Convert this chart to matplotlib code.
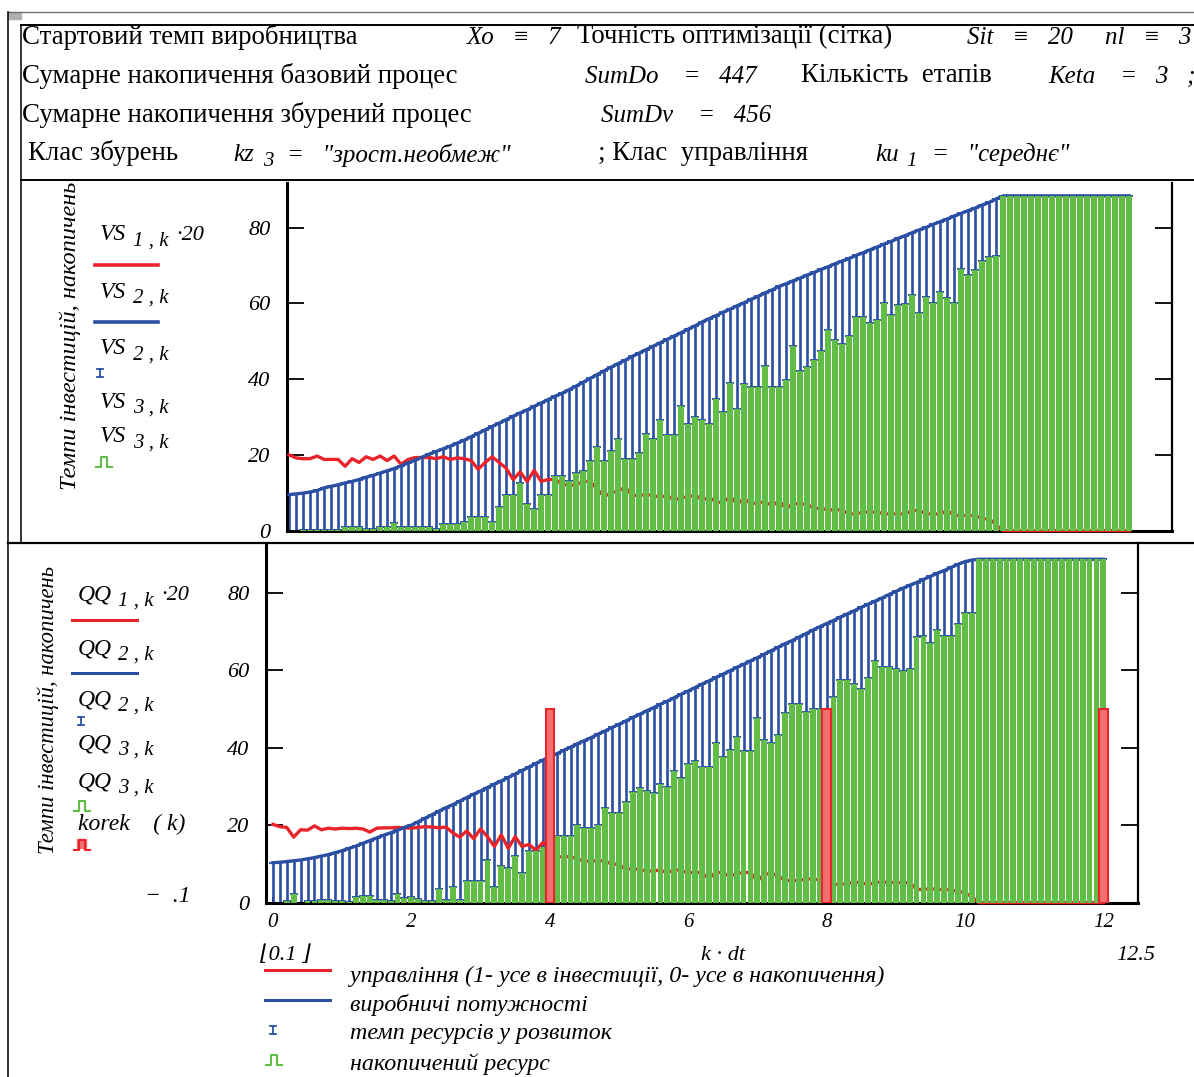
import numpy as np
import matplotlib
matplotlib.use('Agg')
import matplotlib.pyplot as plt
from matplotlib.lines import Line2D
from matplotlib.patches import Rectangle

plt.rcParams['font.family'] = ['Liberation Serif', 'DejaVu Serif']

# time grid k*dt, k = 0..120
dt = 0.1
k = np.arange(121)
t = k * dt

# ---- upper chart (VS): base process ----
vs_blue = [9.5, 9.7, 9.9, 10.2, 10.6, 11.3, 11.7, 12.1, 12.6, 13.0,
           13.5, 14.1, 14.6, 15.2, 15.8, 16.4, 17.1, 17.9, 18.6, 19.4,
           20.2, 20.9, 21.6, 22.3, 23.1, 23.9, 24.8, 25.7, 26.6, 27.5,
           28.4, 29.3, 30.2, 31.1, 31.9, 32.8, 33.7, 34.6, 35.5, 36.3,
           37.2, 38.2, 39.2, 40.2, 41.2, 42.2, 43.2, 44.1, 45.0, 46.0,
           46.9, 47.8, 48.7, 49.6, 50.5, 51.4, 52.3, 53.2, 54.1, 55.1,
           56.0, 56.8, 57.7, 58.5, 59.4, 60.2, 61.1, 61.9, 62.8, 63.6,
           64.5, 65.2, 66.0, 66.7, 67.5, 68.2, 69.0, 69.7, 70.5, 71.2,
           71.9, 72.7, 73.4, 74.2, 74.9, 75.7, 76.4, 77.2, 77.9, 78.7,
           79.4, 80.1, 80.9, 81.6, 82.3, 83.1, 83.8, 84.5, 85.2, 86.0,
           86.7, 87.6] + [88.4] * 19
vs_green = [0, 0, 0.2, 0.2, 0.2, 0.2, 0.2, 0.2, 0.9, 0.9,
            0.9, 0.4, 0.4, 0.9, 0.9, 2.0, 0.9, 0.9, 0.9, 0.9,
            0.9, 0.4, 1.7, 1.7, 1.7, 2.4, 3.7, 3.7, 3.7, 2.2,
            6.2, 9.5, 9.5, 12.6, 7.0, 5.8, 9.5, 9.5, 14.4, 14.4,
            13.2, 15.3, 15.7, 18.4, 22.0, 18.4, 21.0, 24.3, 19.0, 19.0,
            20.5, 25.6, 24.3, 29.3, 25.2, 25.2, 32.9, 28.2, 30.0, 29.3,
            28.2, 34.7, 31.3, 39.0, 32.2, 38.6, 38.0, 38.0, 43.4, 38.0,
            38.0, 39.7, 48.7, 42.2, 43.1, 45.0, 47.5, 53.0, 50.3, 49.4,
            51.5, 56.5, 56.5, 54.9, 55.6, 60.0, 56.9, 59.6, 59.8, 62.2,
            57.5, 61.6, 60.0, 63.1, 61.5, 60.0, 69.0, 67.5, 68.7, 71.2,
            72.2, 72.6] + [88.4] * 19
vs_red = [20.0, 19.2, 19.0, 19.0, 19.7, 18.8, 18.8, 18.8, 17.0, 19.0,
          18.0, 19.5, 18.8, 19.7, 18.5, 19.7, 17.5, 18.8, 19.3, 19.3,
          19.3, 19.0, 19.5, 18.8, 19.2, 19.0, 18.5, 16.2, 18.0, 19.5,
          18.0, 16.5, 13.5, 15.5, 13.0, 15.9, 13.0, 13.5, 13.5, 12.2,
          12.0, 12.0, 13.0, 13.0, 11.0, 9.0, 10.0, 10.4, 11.5, 9.3,
          9.3, 9.5, 9.3, 8.8, 9.3, 8.0, 8.8, 8.8, 9.5, 8.0,
          8.8, 7.5, 7.5, 9.0, 7.0, 8.5, 7.0, 7.5, 7.5, 6.6,
          7.9, 5.7, 7.2, 7.0, 7.0, 5.7, 6.0, 5.3, 5.7, 5.3,
          4.4, 4.4, 4.9, 4.9, 4.9, 4.4, 4.4, 4.4, 4.4, 5.3,
          5.3, 4.4, 4.4, 4.4, 5.3, 4.0, 4.0, 4.0, 4.0, 3.1,
          3.1, 1.5] + [0] * 19

# ---- lower chart (QQ): disturbed process ----
qq_blue = [10.3, 10.4, 10.6, 10.8, 11.0, 11.3, 11.6, 12.0, 12.4, 12.9,
           13.4, 14.0, 14.6, 15.3, 16.0, 16.7, 17.4, 18.0, 18.7, 19.4,
           20.0, 20.9, 21.8, 22.7, 23.6, 24.5, 25.3, 26.2, 27.1, 28.0,
           28.8, 29.7, 30.6, 31.4, 32.3, 33.2, 34.1, 35.0, 35.9, 36.8,
           37.6, 38.4, 39.3, 40.1, 41.0, 41.8, 42.6, 43.5, 44.3, 45.2,
           46.0, 46.9, 47.8, 48.6, 49.5, 50.3, 51.2, 52.0, 52.9, 53.8,
           54.6, 55.5, 56.4, 57.2, 58.1, 58.9, 59.8, 60.7, 61.5, 62.4,
           63.2, 64.1, 65.0, 65.9, 66.8, 67.6, 68.5, 69.4, 70.3, 71.2,
           72.0, 72.8, 73.7, 74.5, 75.3, 76.2, 77.0, 77.8, 78.6, 79.5,
           80.3, 81.1, 81.9, 82.6, 83.4, 84.2, 85.0, 85.7, 86.5, 87.3,
           88.0, 88.4] + [88.6] * 19
qq_green = [0, 0, 0.5, 2.3, 0, 0.5, 0.3, 0.8, 0.8, 0.3,
            0.3, 0.2, 1.5, 1.8, 1.8, 0.8, 0.6, 0.5, 2.3, 1.2,
            1.5, 1.0, 0.3, 0.5, 3.4, 0.8, 4.1, 0.8, 5.7, 5.7,
            5.5, 10.9, 4.1, 9.4, 9.0, 12.0, 7.6, 13.2, 13.2, 14.3,
            14.5, 17.1, 17.1, 17.1, 19.9, 19.3, 19.3, 19.9, 24.5, 23.2,
            23.2, 25.9, 28.5, 29.7, 28.8, 28.4, 30.5, 29.8, 34.0, 32.1,
            35.7, 36.5, 35.0, 35.0, 41.2, 37.6, 39.3, 42.8, 39.1, 39.1,
            47.6, 41.9, 41.3, 43.2, 49.0, 51.3, 51.3, 49.2, 49.9, 49.9,
            50.0, 53.1, 57.4, 57.4, 56.5, 55.2, 58.0, 62.4, 60.8, 60.8,
            60.2, 59.8, 60.2, 68.5, 68.8, 67.1, 70.3, 68.8, 68.8, 71.8,
            74.8, 74.8] + [88.6] * 19
qq_red = [20.2, 19.6, 19.4, 16.9, 18.8, 18.7, 19.8, 18.8, 19.2, 19.0,
          19.2, 19.1, 19.2, 19.0, 18.2, 19.2, 19.3, 19.3, 19.4, 19.3,
          19.2, 19.4, 19.6, 19.5, 19.3, 19.5, 18.0, 16.9, 18.5, 16.5,
          19.0, 17.0, 14.5, 17.5, 14.0, 17.0, 14.5, 15.0, 13.5, 15.5,
          14.5, 11.8, 11.8, 11.9, 11.2, 10.7, 10.7, 10.9, 10.7, 9.9,
          9.9, 8.5, 8.8, 8.5, 8.1, 8.2, 8.4, 7.6, 8.6, 8.2,
          7.7, 7.8, 7.7, 6.2, 7.9, 7.6, 6.9, 7.4, 7.8, 7.7,
          5.6, 7.3, 7.5, 7.0, 5.6, 5.8, 5.6, 6.2, 6.0, 6.0,
          6.0, 4.7, 4.7, 5.0, 5.2, 5.2, 4.6, 5.2, 5.3, 5.2,
          5.2, 5.1, 5.2, 3.4, 3.4, 3.6, 3.4, 3.4, 3.2, 3.0,
          2.5, 1.5] + [0] * 19
korek_t = [4, 8, 12]
korek_h = [50, 50, 50]

RED = '#e8242a'
BLUE = '#2b4fa3'
GREEN = '#62bd47'

W, H = 1194, 1077
fig = plt.figure(figsize=(W / 100, H / 100), dpi=100)


def txt(x, y, s, size=18, style='normal', ha='left', **kw):
    fig.text(x / W, 1 - y / H, s, fontsize=size, style=style, ha=ha, va='center', **kw)


def seg(xs, ys, color='black', lw=1.1):
    fig.add_artist(Line2D([a / W for a in xs], [1 - b / H for b in ys], color=color, lw=lw))


def draw(ax, blue, green, red):
    blue = np.array(blue)
    green = np.array(green)
    ax.errorbar(t, blue, yerr=[blue - green, np.zeros_like(blue)], fmt='none',
                ecolor=BLUE, elinewidth=1.9, capsize=2.8, capthick=1.3, zorder=2)
    ax.plot(t, red, color=RED, lw=2.4, zorder=2.6, clip_on=False)
    ax.plot(t, blue, color=BLUE, lw=2.4, zorder=3)
    ax.bar(t, green, width=0.085, color=GREEN, zorder=4)


def setup(ax, xlim, ylim, xlabels):
    ax.set_xlim(*xlim)
    ax.set_ylim(*ylim)
    ax.set_yticks([0, 20, 40, 60, 80])
    ax.set_xticks([0, 2, 4, 6, 8, 10, 12])
    ax.tick_params(axis='y', direction='in', length=12, width=1.3, right=True,
                   pad=12, labelsize=16)
    ax.tick_params(axis='x', direction='in', length=4, width=1.3, pad=7,
                   labelsize=15, labelbottom=xlabels)
    for lab in ax.get_yticklabels() + ax.get_xticklabels():
        lab.set_style('italic')
    ax.spines['top'].set_visible(False)
    for s in ['left', 'bottom']:
        ax.spines[s].set_linewidth(2.2)
    ax.spines['right'].set_linewidth(1.6)


# upper chart
ax1 = fig.add_axes([287 / W, 1 - 531 / H, (1172 - 287) / W, (531 - 183) / H])
draw(ax1, vs_blue, vs_green, vs_red)
setup(ax1, (-0.03, 12.61), (-0.1, 91.8), False)

# lower chart
ax2 = fig.add_axes([266 / W, 1 - 903 / H, (1138 - 266) / W, (903 - 543) / H])
draw(ax2, qq_blue, qq_green, qq_red)
ax2.bar(korek_t, korek_h, width=0.12, color='#f27070', edgecolor=RED, lw=1.5, zorder=5)
setup(ax2, (-0.1, 12.5), (-0.1, 92.8), True)

# frame lines of the worksheet
fig.add_artist(Rectangle((8 / W, 1 - 19 / H), 13 / W, 7 / H, color='#b0b0b0'))
seg([8, 1194], [12, 12], '#707070', 1.0)
seg([8, 8], [12, 1077])
seg([21, 1194], [25, 25], lw=1.4)
seg([21, 21], [25, 543])
seg([21, 1194], [180, 180], lw=1.4)
seg([8, 1194], [543, 543], lw=1.6)

# header
HS = 19.4
IS = 18
txt(22, 37, 'Стартовий темп виробництва', HS)
txt(467, 38, 'Xo   ≡   7', IS, 'italic')
txt(577, 37, 'Точність оптимізації (сітка)', HS)
txt(967, 38, 'Sit   ≡   20', IS, 'italic')
txt(1105, 38, 'nl   ≡   3', IS, 'italic')
txt(22, 76, 'Сумарне накопичення базовий процес', HS)
txt(585, 77, 'SumDo    =   447', IS, 'italic')
txt(801, 76, 'Кількість  етапів', HS)
txt(1048, 77, 'Keta    =   3   ;', IS, 'italic')
txt(22, 115, 'Сумарне накопичення збурений процес', HS)
txt(601, 116, 'SumDv    =   456', IS, 'italic')
txt(28, 153, 'Клас збурень', HS)
txt(233, 155, 'kz', IS, 'italic')
txt(263, 161, '3', 15, 'italic')
txt(287, 155, '=   "зрост.необмеж"', IS, 'italic')
txt(598, 153, '; Клас  управління', HS)
txt(875, 155, 'ku', IS, 'italic')
txt(906, 161, '1', 15, 'italic')
txt(932, 155, '=   "середнє"', IS, 'italic')

# left-side legends and axis titles
txt(70, 336, 'Темпи інвестицій, накопичень', 17.5, 'italic', ha='center', rotation=90)
txt(48, 710, 'Темпи інвестицій, накопичень', 16.3, 'italic', ha='center', rotation=90)


def sublabel(x, y, main, sub, gap, tail=''):
    txt(x, y, main, 17, 'italic')
    txt(x + gap, y + 6, sub, 15, 'italic')
    if tail:
        txt(x + gap + 43, y + 1, tail, 16, 'italic')


sublabel(100, 235, 'VS', '1 , k', 33, '·20')
seg([95, 158], [265, 265], RED, 2.6)
sublabel(100, 292, 'VS', '2 , k', 33)
seg([95, 158], [322, 322], BLUE, 2.6)
sublabel(100, 349, 'VS', '2 , k', 33)
sublabel(100, 402, 'VS', '3 , k', 33)
sublabel(100, 437, 'VS', '3 , k', 33)

sublabel(78, 595, 'QQ', '1 , k', 40, '·20')
seg([72, 137], [620, 620], RED, 2.2)
sublabel(78, 649, 'QQ', '2 , k', 40)
seg([72, 137], [673, 673], BLUE, 2.2)
sublabel(78, 700, 'QQ', '2 , k', 40)
sublabel(78, 744, 'QQ', '3 , k', 40)
sublabel(78, 782, 'QQ', '3 , k', 40)
txt(78, 824, 'korek    ( k)', 17, 'italic')
txt(190, 897, '−  .1', 17, 'italic', ha='right')


def icon_err(x, y):
    seg([x, x], [y - 4, y + 4], BLUE, 1.3)
    seg([x - 3, x + 3], [y - 4, y - 4], BLUE, 1.3)
    seg([x - 3, x + 3], [y + 4, y + 4], BLUE, 1.3)


def icon_bar(x, y, color):
    seg([x - 7, x - 2, x - 2, x + 4, x + 4, x + 9], [y + 5, y + 5, y - 5, y - 5, y + 5, y + 5], color, 1.5)


icon_err(100, 373)
icon_bar(103, 462, GREEN)
icon_err(81, 721)
icon_bar(81, 806, GREEN)
fig.add_artist(Rectangle((77 / W, 1 - 848 / H), 9 / W, 9 / H, color='#f27070'))
icon_bar(81, 845, RED)

# bottom axis limits and legend
txt(260, 955, '⌊0.1 ⌋', 16, 'italic')
txt(723, 955, 'k · dt', 16, 'italic', ha='center')
txt(1155, 955, '12.5', 16, 'italic', ha='right')

LG = 17.3
seg([265, 330], [970, 970], RED, 2.2)
txt(350, 976, 'управління (1- усе в інвестиції, 0- усе в накопичення)', LG, 'italic')
seg([265, 330], [1000, 1000], BLUE, 2.2)
txt(350, 1005, 'виробничі потужності', LG, 'italic')
icon_err(273, 1030)
txt(350, 1034, 'темп ресурсів у розвиток', LG, 'italic')
icon_bar(273, 1060, GREEN)
txt(350, 1064, 'накопичений ресурс', LG, 'italic')

fig.savefig('out.png', dpi=100)
